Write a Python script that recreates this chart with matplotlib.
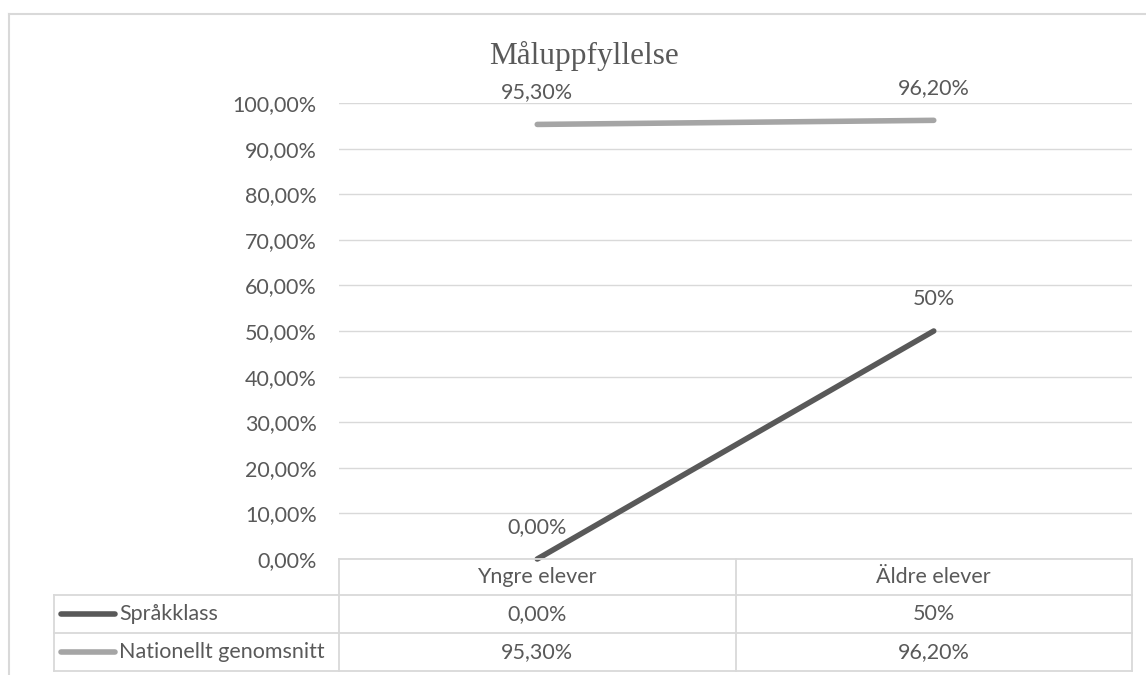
import matplotlib.pyplot as plt
from matplotlib.lines import Line2D
import numpy as np

W, H = 1146, 675

categories = ["Yngre elever", "Äldre elever"]
series_names = ["Språkklass", "Nationellt genomsnitt"]
sprakklass = [0.0, 0.50]
nationellt = [0.953, 0.962]
sprakklass_labels = ["0,00%", "50%"]
nationellt_labels = ["95,30%", "96,20%"]
colors = ["#595959", "#a5a5a5"]

TEXT = "#595959"
GRID = "#d9d9d9"
FONT = "Lato"
FS = 15.5


def fx(px):
    return px / W


def fy(py):
    return 1 - py / H


fig = plt.figure(figsize=(W / 100, H / 100), dpi=100)
ax = fig.add_axes([fx(339), fy(559), fx(1132) - fx(339), fy(103) - fy(559)])

x = np.arange(len(categories))
ax.set_xlim(-0.5, len(categories) - 0.5)
ax.set_ylim(0, 1)

yt = np.arange(0, 1.01, 0.1)
ax.set_yticks(yt)
ax.set_yticklabels([f"{v * 100:.2f}%".replace(".", ",") for v in yt],
                   fontsize=FS, color=TEXT, family=FONT)
ax.tick_params(axis="y", length=0, pad=16)
ax.set_xticks([])
for s in ax.spines.values():
    s.set_visible(False)
ax.grid(axis="y", color=GRID, lw=1)
ax.set_axisbelow(True)

all_vals = [sprakklass, nationellt]
all_labels = [sprakklass_labels, nationellt_labels]
for vals, labs, c in zip(all_vals, all_labels, colors):
    ax.plot(x, vals, color=c, lw=4, solid_capstyle="round", clip_on=False)
    for xi, v, lab in zip(x, vals, labs):
        ax.annotate(lab, (xi, v), xytext=(0, 23), textcoords="offset points",
                    ha="center", va="center", fontsize=FS, color=TEXT,
                    family=FONT, annotation_clip=False)

# title
fig.text(fx(584), fy(56), "Måluppfyllelse", ha="center", va="center",
         fontsize=22.5, color=TEXT, family="Liberation Serif")

# data table below the axis
rows_px = [559, 595, 633, 671]
col_px = [339, 735.5, 1132]
leg_left = 54


def hline(y, x0, x1):
    fig.add_artist(Line2D([fx(x0), fx(x1)], [fy(y), fy(y)], color=GRID, lw=1.3))


def vline(xp, y0, y1):
    fig.add_artist(Line2D([fx(xp), fx(xp)], [fy(y0), fy(y1)], color=GRID, lw=1.3))


hline(rows_px[0], col_px[0], col_px[-1])
for r in rows_px[1:]:
    hline(r, leg_left, col_px[-1])
for c in col_px:
    vline(c, rows_px[0], rows_px[-1])
vline(leg_left, rows_px[1], rows_px[-1])

row_mid = [(rows_px[i] + rows_px[i + 1]) / 2 for i in range(3)]
for i, cat in enumerate(categories):
    cx = (col_px[i] + col_px[i + 1]) / 2
    fig.text(fx(cx), fy(row_mid[0]), cat, ha="center", va="center",
             fontsize=FS, color=TEXT, family=FONT)
    for j, labs in enumerate(all_labels):
        fig.text(fx(cx), fy(row_mid[j + 1]), labs[i], ha="center", va="center",
                 fontsize=FS, color=TEXT, family=FONT)

for j, (name, c) in enumerate(zip(series_names, colors)):
    ym = row_mid[j + 1]
    fig.add_artist(Line2D([fx(61), fx(115)], [fy(ym), fy(ym)], color=c, lw=4,
                          solid_capstyle="round"))
    fig.text(fx(119), fy(ym), name, ha="left", va="center",
             fontsize=FS, color=TEXT, family=FONT)

# outer chart border (right and bottom edges fall outside the picture)
fig.add_artist(Line2D([fx(8.5), fx(8.5)], [fy(13.5), -0.1], color=GRID, lw=1.5))
fig.add_artist(Line2D([fx(8.5), 1.1], [fy(13.5), fy(13.5)], color=GRID, lw=1.5))

fig.savefig("out.png", dpi=100)
